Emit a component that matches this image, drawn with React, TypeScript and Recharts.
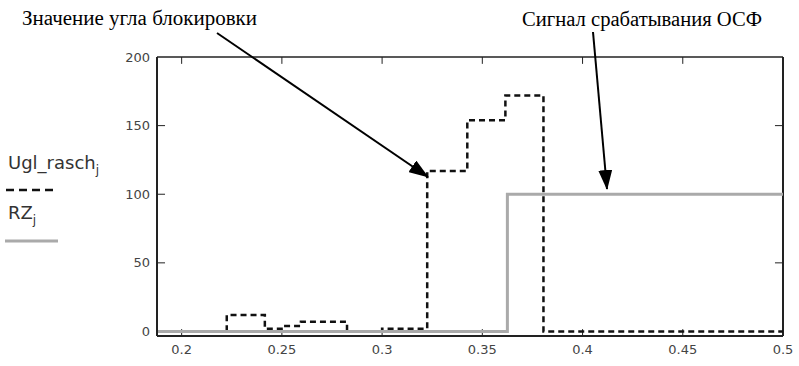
import React from "react";
import { LineChart, Line, XAxis, YAxis, ReferenceLine } from "recharts";

// Ugl_rasch_j (dashed black) — step values
const uglX = [0.1877, 0.2225, 0.2415, 0.2505, 0.2595, 0.2825, 0.3, 0.3225, 0.3425, 0.3615, 0.3805, 0.5];
const uglY = [0, 12, 2, 4, 7, 0, 2, 117, 154, 172, 0, 0];

// RZ_j (gray) — step values
const rzX = [0.1877, 0.3625, 0.5];
const rzY = [0, 100, 100];

const xTicks = [0.2, 0.25, 0.3, 0.35, 0.4, 0.45, 0.5];
const yTicks = [0, 50, 100, 150, 200];

const xDomain: [number, number] = [0.1877, 0.5];
const yDomain: [number, number] = [-3.3, 200];

const uglData = uglX.map((x, i) => ({ x, y: uglY[i] }));
const rzData = rzX.map((x, i) => ({ x, y: rzY[i] }));

const fmtX = (v: number) => String(Number(v.toFixed(2)));

const tickFont = { fontFamily: "DejaVu Sans", fontSize: 13, fill: "#444" };

export default function App() {
  const xTickLen = 5; // data units (~7px)
  const yTickLen = 0.004; // data units (~8px)
  return (
    <div style={{ position: "absolute", left: 0, top: 0, width: 799, height: 366, background: "#fff" }}>
      <LineChart
        width={799}
        height={366}
        margin={{ top: 57, right: 16, bottom: 0, left: 0 }}
      >
        <XAxis
          dataKey="x"
          type="number"
          domain={xDomain}
          allowDataOverflow
          ticks={xTicks}
          tickFormatter={fmtX}
          tick={tickFont}
          tickLine={false}
          tickMargin={3}
          height={30}
          axisLine={{ stroke: "#222", strokeWidth: 2 }}
        />
        <YAxis
          dataKey="y"
          type="number"
          domain={yDomain}
          allowDataOverflow
          ticks={yTicks}
          tick={tickFont}
          tickLine={false}
          tickMargin={1}
          width={157}
          axisLine={{ stroke: "#222", strokeWidth: 2 }}
        />
        <ReferenceLine y={200} stroke="#222" strokeWidth={1.5} ifOverflow="visible" />
        <ReferenceLine x={0.5} stroke="#222" strokeWidth={2} ifOverflow="visible" />
        {xTicks.map((t) => (
          <ReferenceLine
            key={"xb" + t}
            segment={[{ x: t, y: yDomain[0] }, { x: t, y: yDomain[0] + xTickLen }]}
            stroke="#222"
            strokeWidth={1}
            ifOverflow="visible"
          />
        ))}
        {xTicks.map((t) => (
          <ReferenceLine
            key={"xt" + t}
            segment={[{ x: t, y: yDomain[1] }, { x: t, y: yDomain[1] - xTickLen }]}
            stroke="#222"
            strokeWidth={1}
            ifOverflow="visible"
          />
        ))}
        {yTicks.slice(1, 4).map((t) => (
          <ReferenceLine
            key={"yl" + t}
            segment={[{ x: xDomain[0], y: t }, { x: xDomain[0] + yTickLen, y: t }]}
            stroke="#222"
            strokeWidth={1}
            ifOverflow="visible"
          />
        ))}
        {yTicks.slice(1, 4).map((t) => (
          <ReferenceLine
            key={"yr" + t}
            segment={[{ x: xDomain[1], y: t }, { x: xDomain[1] - yTickLen, y: t }]}
            stroke="#222"
            strokeWidth={1}
            ifOverflow="visible"
          />
        ))}
        <Line
          data={uglData}
          dataKey="y"
          type="stepAfter"
          stroke="#111"
          strokeWidth={2.5}
          strokeDasharray="6 4"
          dot={false}
          isAnimationActive={false}
        />
        <Line
          data={rzData}
          dataKey="y"
          type="stepAfter"
          stroke="#aaaaaa"
          strokeWidth={3}
          dot={false}
          isAnimationActive={false}
        />
      </LineChart>
      <svg
        width={799}
        height={366}
        style={{ position: "absolute", left: 0, top: 0, pointerEvents: "none" }}
      >
        <defs>
          <marker id="ah" markerWidth="20" markerHeight="14" refX="19" refY="7" orient="auto" markerUnits="userSpaceOnUse">
            <path d="M0,0 L20,7 L0,14 Z" fill="#000" />
          </marker>
        </defs>
        <text x={22} y={25} fontFamily="Liberation Serif" fontSize={20} fill="#000" textLength={235} lengthAdjust="spacingAndGlyphs">
          Значение угла блокировки
        </text>
        <text x={522} y={26} fontFamily="Liberation Serif" fontSize={20} fill="#000" textLength={240} lengthAdjust="spacingAndGlyphs">
          Сигнал срабатывания ОСФ
        </text>
        <line x1={217} y1={33} x2={428} y2={177} stroke="#000" strokeWidth={2} markerEnd="url(#ah)" />
        <line x1={593} y1={32} x2={607} y2={189} stroke="#000" strokeWidth={2} markerEnd="url(#ah)" />
        <text x={8} y={169} fontFamily="DejaVu Sans" fontSize={18} fill="#333">
          Ugl_rasch
          <tspan fontSize={12} dy={5}>j</tspan>
        </text>
        <line x1={6} y1={190} x2={54} y2={190} stroke="#111" strokeWidth={2.5} strokeDasharray="8 5" />
        <text x={8} y={219} fontFamily="DejaVu Sans" fontSize={18} fill="#333">
          RZ
          <tspan fontSize={12} dy={5}>j</tspan>
        </text>
        <line x1={5} y1={241} x2={58} y2={241} stroke="#aaaaaa" strokeWidth={3} />
      </svg>
    </div>
  );
}
